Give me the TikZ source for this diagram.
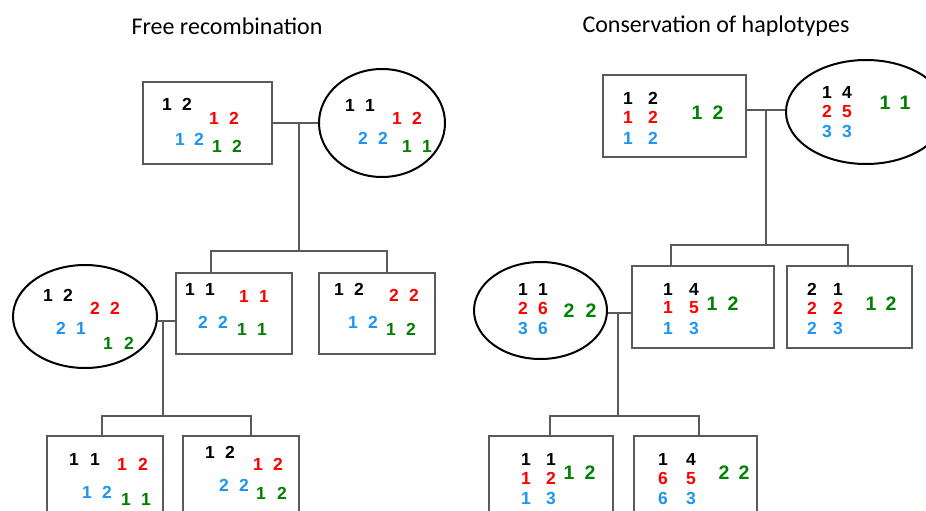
\documentclass[tikz,border=0pt]{standalone}
\usepackage{fontspec}
\usetikzlibrary{shapes.geometric}
\newfontfamily\digitfont{Liberation Sans}
\newfontfamily\titlefont{Carlito}
\definecolor{allred}{RGB}{255,0,0}
\definecolor{allblue}{RGB}{30,150,240}
\definecolor{allgreen}{RGB}{0,128,0}
\definecolor{boxgray}{RGB}{90,90,90}
\definecolor{linegray}{RGB}{90,90,90}
% a pair of allele numbers: name, x of first, x of second, y, colour, first, second
\newcommand\gpair[7]{%
  \node[dg,text=#5] (#1) at ({(#2+#3)/2},#4)
    {\makebox[0pt]{#6}\hspace{\dimexpr #3pt-#2pt\relax}\makebox[0pt]{#7}};}
\begin{document}
\begin{tikzpicture}[x=1pt,y=-1pt,
  box/.style={draw=boxgray,line width=1.3pt,rectangle,inner sep=0pt},
  oval/.style={draw=black,line width=2pt,ellipse,inner sep=0pt},
  link/.style={draw=linegray,line width=1.3pt},
  dg/.style={inner sep=0pt,font=\digitfont\bfseries\fontsize{17.5}{17.5}\selectfont},
  bigdg/.style={dg,font=\digitfont\bfseries\fontsize{19.5}{19.5}\selectfont},
  ttl/.style={font=\titlefont\fontsize{24}{24}\selectfont}]
\useasboundingbox (0,0) rectangle (926,511);
\fill[white] (0,0) rectangle (926,511);
\clip (0,0) rectangle (926,511);

% titles
\node[ttl] (t1) at (227,26) {Free recombination};
\node[ttl] (t2) at (716,26) {Conservation of haplotypes};

% ---------------- free recombination ----------------
\node[box,minimum width=129,minimum height=82] (tl) at (207.5,123) {};
\node[oval,minimum width=126,minimum height=108] (te) at (382,123) {};
\node[oval,minimum width=144,minimum height=103] (me) at (85,316.5) {};
\node[box,minimum width=116,minimum height=81] (mb1) at (234,313.5) {};
\node[box,minimum width=116,minimum height=81] (mb2) at (377,313.5) {};
\node[box,minimum width=116,minimum height=82] (bb1) at (105,477) {};
\node[box,minimum width=116,minimum height=82] (bb2) at (241,477) {};

\coordinate (j1) at (299,123);
\coordinate (b1) at (299,251);
\coordinate (j2) at (163,321);
\coordinate (b2) at (163,416);
\draw[link] (tl.east) -- (te.west);
\draw[link] (j1) -- (b1);
\draw[link] ([xshift=-23pt]mb1.north) |- (b1) -| ([xshift=10pt]mb2.north);
\draw[link] (j2 -| me.east) -- (j2 -| mb1.west);
\draw[link] (j2) -- (b2);
\draw[link] ([xshift=-3pt]bb1.north) |- (b2) -| ([xshift=10pt]bb2.north);

\gpair{tlk}{167}{187}{104}{black}{1}{2}
\gpair{tlr}{214}{234}{118}{allred}{1}{2}
\gpair{tlb}{180}{199}{139}{allblue}{1}{2}
\gpair{tlg}{217}{237}{146}{allgreen}{1}{2}

\gpair{tek}{350}{370}{105}{black}{1}{1}
\gpair{ter}{397}{417}{118}{allred}{1}{2}
\gpair{teb}{363}{383}{138}{allblue}{2}{2}
\gpair{teg}{407}{427}{146}{allgreen}{1}{1}

\gpair{mek}{48}{68}{295}{black}{1}{2}
\gpair{mer}{95}{115}{308}{allred}{2}{2}
\gpair{meb}{61}{81}{328}{allblue}{2}{1}
\gpair{meg}{108}{129}{343}{allgreen}{1}{2}

\gpair{m1k}{190}{210}{289}{black}{1}{1}
\gpair{m1r}{244}{264}{296}{allred}{1}{1}
\gpair{m1b}{203}{223}{322}{allblue}{2}{2}
\gpair{m1g}{242}{262}{329}{allgreen}{1}{1}

\gpair{m2k}{339}{359}{289}{black}{1}{2}
\gpair{m2r}{394}{414}{295}{allred}{2}{2}
\gpair{m2b}{353}{373}{322}{allblue}{1}{2}
\gpair{m2g}{391}{411}{329}{allgreen}{1}{2}

\gpair{b1k}{74}{95}{459}{black}{1}{1}
\gpair{b1r}{122}{143}{464}{allred}{1}{2}
\gpair{b1b}{87}{107}{492}{allblue}{1}{2}
\gpair{b1g}{126}{146}{499}{allgreen}{1}{1}

\gpair{b2k}{210}{230}{452}{black}{1}{2}
\gpair{b2r}{258}{278}{464}{allred}{1}{2}
\gpair{b2b}{224}{244}{485}{allblue}{2}{2}
\gpair{b2g}{261}{282}{493}{allgreen}{1}{2}

% ---------------- conservation of haplotypes ----------------
\node[box,minimum width=143,minimum height=82] (tr) at (674.5,116) {};
\node[oval,minimum width=160,minimum height=104] (tre) at (866,112) {};
\node[oval,minimum width=133,minimum height=97] (mre) at (540.5,310.5) {};
\node[box,minimum width=142,minimum height=82] (mrb1) at (703,307) {};
\node[box,minimum width=125,minimum height=82] (mrb2) at (849.5,307) {};
\node[box,minimum width=124,minimum height=82] (brb1) at (551,477) {};
\node[box,minimum width=123,minimum height=82] (brb2) at (695.5,477) {};

\coordinate (j3) at (766,110);
\coordinate (b3) at (766,245);
\coordinate (j4) at (618,313);
\coordinate (b4) at (618,416);
\draw[link] (j3 -| tr.east) -- (j3 -| tre.west);
\draw[link] (j3) -- (b3);
\draw[link] ([xshift=-32pt]mrb1.north) |- (b3) -| ([xshift=-1.5pt]mrb2.north);
\draw[link] (j4 -| mre.east) -- (j4 -| mrb1.west);
\draw[link] (j4) -- (b4);
\draw[link] ([xshift=-1pt]brb1.north) |- (b4) -| ([xshift=3.5pt]brb2.north);

\gpair{trk}{628}{653}{98}{black}{1}{2}
\gpair{trr}{628}{653}{117}{allred}{1}{2}
\gpair{trb}{628}{653}{138}{allblue}{1}{2}
\node[bigdg,text=allgreen] (trg) at (707.5,113) {\makebox[0pt]{1}\hspace{21pt}\makebox[0pt]{2}};

\gpair{trek}{827}{847}{92}{black}{1}{4}
\gpair{trer}{827}{847}{111}{allred}{2}{5}
\gpair{treb}{827}{847}{131}{allblue}{3}{3}
\node[bigdg,text=allgreen] (treg) at (895,103) {\makebox[0pt]{1}\hspace{20pt}\makebox[0pt]{1}};

\gpair{mrek}{523}{543}{289}{black}{1}{1}
\gpair{mrer}{523}{543}{308}{allred}{2}{6}
\gpair{mreb}{523}{543}{328}{allblue}{3}{6}
\node[bigdg,text=allgreen] (mreg) at (580,311) {\makebox[0pt]{2}\hspace{22pt}\makebox[0pt]{2}};

\gpair{r1k}{668}{694}{289}{black}{1}{4}
\gpair{r1r}{668}{694}{308}{allred}{1}{5}
\gpair{r1b}{668}{694}{328}{allblue}{1}{3}
\node[bigdg,text=allgreen] (r1g) at (722.5,304) {\makebox[0pt]{1}\hspace{21pt}\makebox[0pt]{2}};

\gpair{r2k}{812}{838}{289}{black}{2}{1}
\gpair{r2r}{812}{838}{308}{allred}{2}{2}
\gpair{r2b}{812}{838}{328}{allblue}{2}{3}
\node[bigdg,text=allgreen] (r2g) at (881,304) {\makebox[0pt]{1}\hspace{20pt}\makebox[0pt]{2}};

\gpair{s1k}{526}{551}{459}{black}{1}{1}
\gpair{s1r}{526}{551}{478}{allred}{1}{2}
\gpair{s1b}{526}{551}{498}{allblue}{1}{3}
\node[bigdg,text=allgreen] (s1g) at (579.5,473) {\makebox[0pt]{1}\hspace{21pt}\makebox[0pt]{2}};

\gpair{s2k}{663}{691}{459}{black}{1}{4}
\gpair{s2r}{663}{691}{478}{allred}{6}{5}
\gpair{s2b}{663}{691}{498}{allblue}{6}{3}
\node[bigdg,text=allgreen] (s2g) at (734,473) {\makebox[0pt]{2}\hspace{20pt}\makebox[0pt]{2}};
\end{tikzpicture}
\end{document}
